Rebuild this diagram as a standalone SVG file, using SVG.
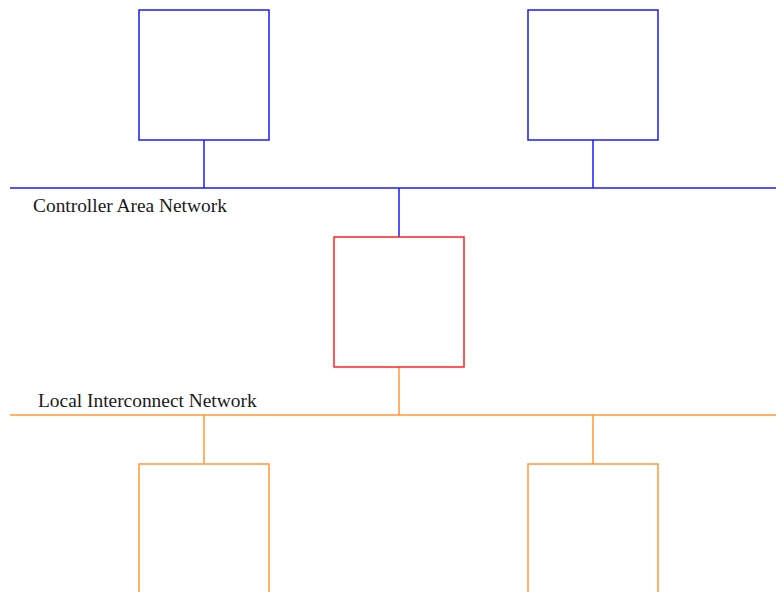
<svg xmlns="http://www.w3.org/2000/svg" width="776" height="592" viewBox="0 0 776 592">
  <style>
    .can { stroke: #1a1aff; fill: none; stroke-width: 1.5; }
    .gw { stroke: #ff2222; fill: none; stroke-width: 1.5; }
    .lin { stroke: #ff9933; fill: none; stroke-width: 1.5; }
    .label { font-family: "Liberation Serif", "Times New Roman", serif; font-size: 19.4px; fill: #1a1a1a; }
  </style>
  <rect width="776" height="592" fill="#ffffff"/>

  <!-- bus lines and stubs -->
  <g id="connectors">
    <line class="can" x1="10" y1="188" x2="776" y2="188"/>
    <line class="can" x1="204" y1="140" x2="204" y2="188"/>
    <line class="can" x1="593" y1="140" x2="593" y2="188"/>
    <line class="can" x1="399" y1="188" x2="399" y2="237"/>
    <line class="lin" x1="10" y1="415" x2="776" y2="415"/>
    <line class="lin" x1="399" y1="367" x2="399" y2="415"/>
    <line class="lin" x1="204" y1="415" x2="204" y2="464"/>
    <line class="lin" x1="593" y1="415" x2="593" y2="464"/>
  </g>

  <g id="can-node-1"><rect class="can" x="139" y="10" width="130" height="130"/></g>
  <g id="can-node-2"><rect class="can" x="528" y="10" width="130" height="130"/></g>
  <g id="gateway"><rect class="gw" x="334" y="237" width="130" height="130"/></g>
  <g id="lin-node-1"><rect class="lin" x="139" y="464" width="130" height="140"/></g>
  <g id="lin-node-2"><rect class="lin" x="528" y="464" width="130" height="140"/></g>

  <g id="labels">
    <text class="label" x="33" y="212">Controller Area Network</text>
    <text class="label" x="38" y="407">Local Interconnect Network</text>
  </g>
</svg>
